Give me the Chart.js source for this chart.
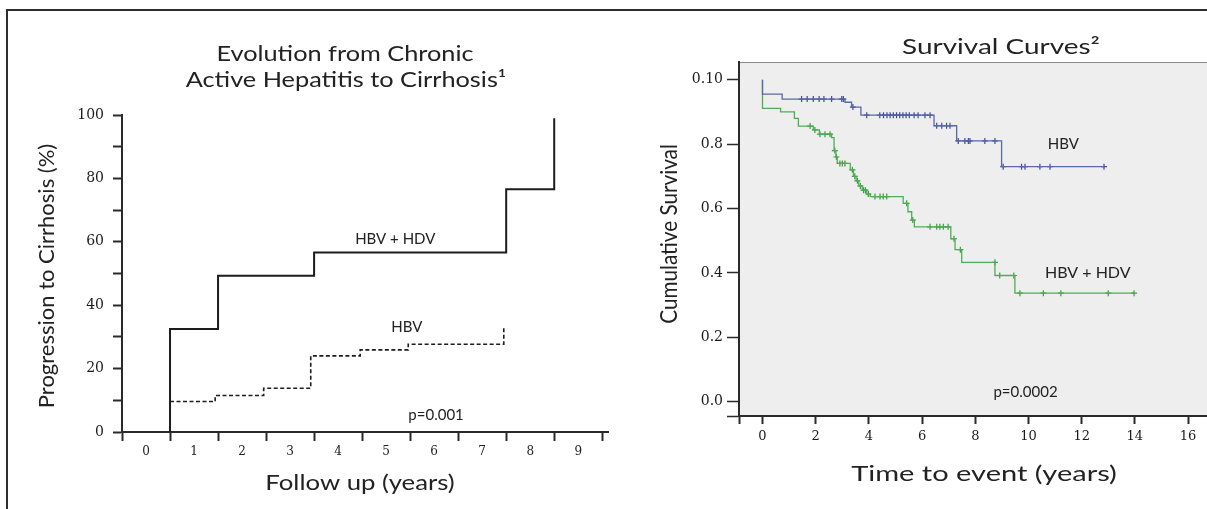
<!DOCTYPE html>
<html lang="en">
<head>
<meta charset="UTF-8" />
<title>HBV / HDV - Cirrhosis and Survival</title>
<script src="https://cdn.jsdelivr.net/npm/chart.js"></script>
<style>
  html, body {
    margin: 0;
    padding: 0;
    background: #fff;
    width: 1207px;
    height: 509px;
    overflow: hidden;
  }
  .frame {
    position: absolute;
    left: 6px;
    top: 9px;
    width: 1400px;
    height: 700px;
    border: 2px solid #2e2e2e;
  }
  #cirrhosis { position: absolute; left: 0; top: 0; }
  #survival { position: absolute; left: 640px; top: 0; }
</style>
</head>
<body>
<div class="frame"></div>
<canvas id="cirrhosis" width="640" height="509"></canvas>
<canvas id="survival" width="600" height="509"></canvas>

<script>
// --- left panel: progression to cirrhosis (%) ---
const followLabels = ['0', '1', '2', '3', '4', '5', '6', '7', '8', '9'];
const pctLabelValues = [0, 20, 40, 60, 80, 100];
const hdvYears = [1, 1, 2, 4, 8, 9];
const hdvPct = [0, 32.5, 49.3, 56.6, 76.6, 99];
const hbvYears = [1, 1.94, 2.95, 3.93, 4.96, 5.96, 7.95];
const hbvPct = [9.6, 11.5, 13.8, 24.0, 25.9, 27.7, 32.9];

// --- right panel: cumulative survival (Kaplan-Meier) ---
const survTickValues = [0, 0.2, 0.4, 0.6, 0.8, 1.0];
const survTickLabels = ['0.0', '0.2', '0.4', '0.6', '0.8', '0.10'];
const timeTickValues = [0, 2, 4, 6, 8, 10, 12, 14, 16];
const kmHbvTime = [0, 0, 0.74, 3.1, 3.35, 3.7, 6.45, 7.3, 8.99, 12.84];
const kmHbvSurv = [1.0, 0.955, 0.94, 0.93, 0.915, 0.89, 0.857, 0.81, 0.73, 0.73];
const kmHdvTime = [0, 0, 0.68, 1.2, 1.35, 1.91, 2.14, 2.6, 2.69, 2.76, 2.81, 3.3, 3.42, 3.52,
                   3.62, 3.75, 3.92, 4.05, 5.29, 5.47, 5.61, 5.71, 7.08, 7.24, 7.49, 8.74, 9.49, 13.98];
const kmHdvSurv = [1.0, 0.911, 0.90, 0.88, 0.856, 0.844, 0.831, 0.82, 0.78, 0.76, 0.74, 0.72, 0.70, 0.686,
                   0.67, 0.657, 0.645, 0.637, 0.616, 0.59, 0.564, 0.543, 0.506, 0.472, 0.433, 0.392, 0.337, 0.337];
const hbvCensored = [1.47, 1.68, 1.91, 2.13, 2.31, 2.6, 2.98, 3.04, 3.4, 3.92, 4.41, 4.55, 4.68, 4.8, 4.92,
                     5.04, 5.16, 5.28, 5.4, 5.52, 5.7, 5.85, 6.11, 6.3, 6.55, 6.74, 6.92, 7.05, 7.36, 7.61,
                     7.74, 7.8, 8.36, 8.74, 9.05, 9.74, 9.87, 10.43, 10.81, 12.84];
const hdvCensored = [1.79, 1.97, 2.16, 2.35, 2.54, 2.72, 2.78, 2.91, 3.0, 3.1, 3.38, 3.47, 3.57, 3.68, 3.8,
                     3.87, 3.98, 4.23, 4.42, 4.54, 4.67, 5.42, 5.65, 6.3, 6.55, 6.67, 6.8, 6.98, 7.2, 7.44,
                     8.74, 8.92, 9.45, 9.68, 10.56, 11.22, 13.0, 13.97];

Chart.defaults.font.family = 'Lato, "Open Sans", sans-serif';
Chart.defaults.color = '#222';
Chart.defaults.animation = false;

const serif = '"DejaVu Serif", "Liberation Serif", serif';
const tickFont = { family: serif, size: 14 };

function toPoints(xs, ys) {
  return xs.map((x, i) => ({ x: x, y: ys[i] }));
}

// censored marks sit on the step curve just before any drop at that time
function onCurve(times, surv, marks) {
  return marks.map(t => {
    let s = surv[0];
    for (let i = 0; i < times.length; i++) {
      if (times[i] < t || (i === times.length - 1 && times[i] === t)) s = surv[i];
    }
    return { x: t, y: s };
  });
}

// free text: titles in canvas pixels, notes in data units.
// the source figure is a bit stretched sideways, so titles get a width factor (sx)
const textMarks = {
  id: 'textMarks',
  afterDraw(chart, args, opts) {
    const { ctx, scales } = chart;
    (opts.items || []).forEach(it => {
      const px = it.data ? scales.x.getPixelForValue(it.x) : it.x;
      const py = it.data ? scales.y.getPixelForValue(it.y) : it.y;
      ctx.save();
      ctx.font = it.font;
      ctx.fillStyle = it.color || '#222';
      ctx.textAlign = 'center';
      ctx.textBaseline = 'middle';
      ctx.translate(px, py);
      if (it.rotate) ctx.rotate(-Math.PI / 2);
      ctx.scale(it.sx || 1, 1);
      ctx.fillText(it.text, 0, 0);
      ctx.restore();
    });
  }
};

const plotBackground = {
  id: 'plotBackground',
  beforeDraw(chart, args, opts) {
    if (!opts.color) return;
    const { ctx, chartArea: a } = chart;
    ctx.save();
    ctx.fillStyle = opts.color;
    ctx.fillRect(a.left, a.top, a.right - a.left, a.bottom - a.top);
    ctx.strokeStyle = opts.edge;
    ctx.lineWidth = 1;
    ctx.beginPath();
    ctx.moveTo(a.left, a.top + 0.5);
    ctx.lineTo(a.right, a.top + 0.5);
    ctx.stroke();
    ctx.restore();
  }
};

const noteFont = '15px Lato';
const headFont = '22px Lato';

new Chart(document.getElementById('cirrhosis'), {
  type: 'line',
  data: {
    datasets: [
      {
        label: 'HBV + HDV',
        data: toPoints(hdvYears, hdvPct),
        stepped: 'before',
        borderColor: '#1c1c1c',
        borderWidth: 2,
        pointRadius: 0,
        fill: false
      },
      {
        label: 'HBV',
        data: toPoints(hbvYears, hbvPct),
        stepped: 'before',
        borderColor: '#1c1c1c',
        borderWidth: 1.6,
        borderDash: [4, 2.5],
        pointRadius: 0,
        fill: false
      }
    ]
  },
  options: {
    responsive: false,
    layout: { padding: { left: 8, right: 32, top: 115, bottom: 0 } },
    plugins: {
      legend: { display: false },
      tooltip: { enabled: false },
      textMarks: {
        items: [
          { text: 'Evolution from Chronic', x: 345, y: 54, font: headFont, sx: 1.15 },
          { text: 'Active Hepatitis to Cirrhosis\u00b9', x: 346, y: 80, font: headFont, sx: 1.15 },
          { text: 'Progression to Cirrhosis (%)', x: 47, y: 276, font: headFont, rotate: true },
          { text: 'Follow up (years)', x: 360, y: 483, font: headFont, sx: 1.17 },
          { text: 'HBV + HDV', x: 5.69, y: 60.8, data: true, font: noteFont },
          { text: 'HBV', x: 5.93, y: 33.0, data: true, font: noteFont },
          { text: 'p=0.001', x: 6.54, y: 5.4, data: true, font: noteFont }
        ]
      }
    },
    scales: {
      x: {
        type: 'linear',
        min: 0,
        max: 10.12,
        afterFit: s => { s.height = 77; },
        afterBuildTicks: s => {
          const t = [];
          for (let i = 0; i <= followLabels.length; i++) {
            t.push({ value: i });
            if (i < followLabels.length) t.push({ value: i + 0.5 });
          }
          s.ticks = t;
        },
        border: { display: true, color: '#2a2a2a', width: 2 },
        grid: {
          drawOnChartArea: false,
          tickLength: 9,
          tickWidth: 2,
          tickColor: c => (c.tick && c.tick.value % 1 === 0) ? '#2a2a2a' : 'rgba(0,0,0,0)'
        },
        ticks: {
          autoSkip: false,
          maxRotation: 0,
          padding: 4,
          font: { family: serif, size: 12 },
          color: '#222',
          callback: v => (v % 1 === 0) ? '' : followLabels[Math.floor(v)]
        },
        title: { display: false }
      },
      y: {
        min: 0,
        max: 100,
        afterFit: s => { s.width = 114; },
        ticks: {
          stepSize: 10,
          padding: 9,
          font: tickFont,
          color: '#1a1a1a',
          callback: v => pctLabelValues.includes(v) ? String(v) : ''
        },
        border: { display: true, color: '#2a2a2a', width: 2 },
        grid: { drawOnChartArea: false, tickLength: 9, tickWidth: 2, tickColor: '#2a2a2a' },
        title: { display: false }
      }
    }
  },
  plugins: [textMarks]
});

const hbvBlue = '#5868aa';
const hdvGreen = '#4fae55';

new Chart(document.getElementById('survival'), {
  type: 'line',
  data: {
    datasets: [
      {
        label: 'HBV',
        data: toPoints(kmHbvTime, kmHbvSurv),
        stepped: 'before',
        borderColor: hbvBlue,
        borderWidth: 1.3,
        pointRadius: 0
      },
      {
        label: 'HBV censored',
        data: onCurve(kmHbvTime, kmHbvSurv, hbvCensored),
        showLine: false,
        pointStyle: 'cross',
        pointRadius: 3,
        pointBorderWidth: 1.2,
        pointBorderColor: '#3c4c92'
      },
      {
        label: 'HBV + HDV',
        data: toPoints(kmHdvTime, kmHdvSurv),
        stepped: 'before',
        borderColor: hdvGreen,
        borderWidth: 1.3,
        pointRadius: 0
      },
      {
        label: 'HBV + HDV censored',
        data: onCurve(kmHdvTime, kmHdvSurv, hdvCensored),
        showLine: false,
        pointStyle: 'cross',
        pointRadius: 3,
        pointBorderWidth: 1.2,
        pointBorderColor: '#3d9a44'
      }
    ]
  },
  options: {
    responsive: false,
    layout: { padding: { left: 4, right: 11, top: 62, bottom: 0 } },
    plugins: {
      legend: { display: false },
      tooltip: { enabled: false },
      plotBackground: { color: '#eeeeee', edge: '#8a8a8a' },
      textMarks: {
        items: [
          { text: 'Survival Curves\u00b2', x: 361, y: 47, font: headFont, sx: 1.27 },
          { text: 'Cumulative Survival', x: 30, y: 234, font: '23px Lato', rotate: true, sx: 0.9 },
          { text: 'Time to event (years)', x: 344, y: 474, font: headFont, sx: 1.32 },
          { text: 'HBV', x: 11.31, y: 0.80, data: true, font: noteFont },
          { text: 'HBV + HDV', x: 12.23, y: 0.399, data: true, font: '16px Lato' },
          { text: 'p=0.0002', x: 9.89, y: 0.031, data: true, font: noteFont }
        ]
      }
    },
    scales: {
      x: {
        type: 'linear',
        min: -0.883,
        max: 17.54,
        afterFit: s => { s.height = 93; },
        afterBuildTicks: s => {
          s.ticks = [{ value: s.min }].concat(timeTickValues.map(v => ({ value: v })));
        },
        border: { display: true, color: '#2a2a2a', width: 2 },
        grid: { drawOnChartArea: false, tickLength: 8, tickWidth: 2, tickColor: '#2a2a2a' },
        ticks: {
          autoSkip: false,
          maxRotation: 0,
          padding: 5,
          font: { family: serif, size: 13 },
          color: '#1a1a1a',
          callback: v => timeTickValues.includes(v) ? String(v) : ''
        },
        title: { display: false }
      },
      y: {
        min: -0.0444,
        max: 1.055,
        afterFit: s => { s.width = 95; },
        afterBuildTicks: s => {
          s.ticks = [{ value: s.min }].concat(survTickValues.map(v => ({ value: v })));
        },
        border: { display: true, color: '#2a2a2a', width: 2 },
        grid: { drawOnChartArea: false, tickLength: 12, tickWidth: 1.5, tickColor: '#2a2a2a' },
        ticks: {
          padding: 4,
          font: tickFont,
          color: '#1a1a1a',
          callback: v => {
            const i = survTickValues.indexOf(v);
            return i < 0 ? '' : survTickLabels[i];
          }
        },
        title: { display: false }
      }
    }
  },
  plugins: [plotBackground, textMarks]
});
</script>
</body>
</html>
